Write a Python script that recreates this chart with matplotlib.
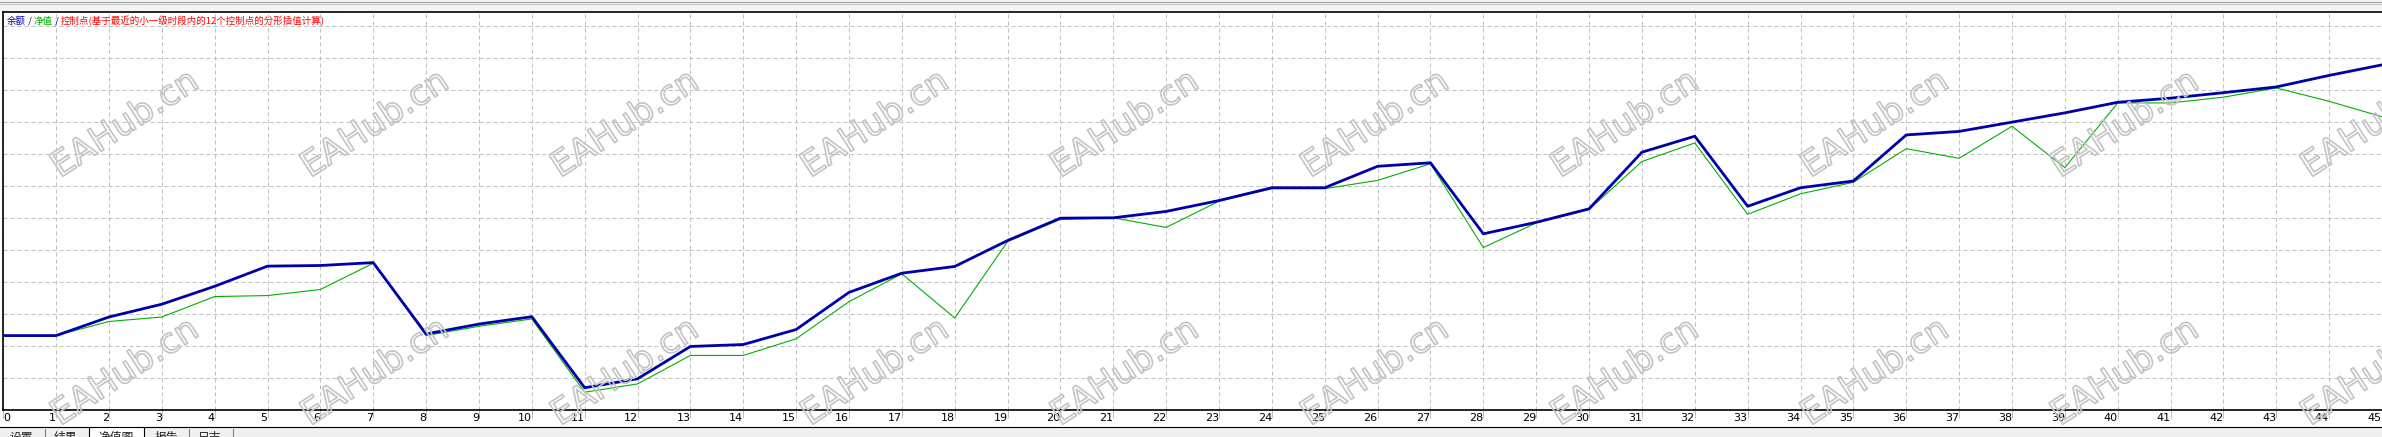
import matplotlib
matplotlib.use("Agg")
import matplotlib.pyplot as plt
from matplotlib import patheffects
from matplotlib.lines import Line2D
from matplotlib.patches import Rectangle

plt.rcParams['font.family'] = ['Noto Sans CJK SC', 'DejaVu Sans']

# Trade numbers and the two curves (in grid units, one unit per gridline)
trades = list(range(46))
balance = [2.31, 2.31, 2.89, 3.29, 3.85, 4.48, 4.50, 4.59, 2.36, 2.67,
           2.90, 0.68, 0.96, 1.97, 2.03, 2.50, 3.66, 4.26, 4.47, 5.28,
           5.98, 5.99, 6.19, 6.53, 6.93, 6.93, 7.60, 7.71, 5.49, 5.85,
           6.27, 8.04, 8.54, 6.35, 6.93, 7.14, 8.58, 8.69, 8.98, 9.27,
           9.60, 9.73, 9.90, 10.08, 10.44, 10.77]
equity = [2.31, 2.31, 2.75, 2.89, 3.53, 3.56, 3.75, 4.57, 2.31, 2.60,
          2.83, 0.54, 0.80, 1.69, 1.69, 2.21, 3.37, 4.24, 2.86, 5.25,
          5.94, 5.99, 5.69, 6.51, 6.90, 6.90, 7.16, 7.68, 5.06, 5.83,
          6.25, 7.75, 8.33, 6.10, 6.74, 7.10, 8.15, 7.85, 8.85, 7.56,
          9.58, 9.58, 9.76, 10.05, 9.63, 9.15]
tick_labels = [str(t) for t in trades]
tab_names = ["设置", "结果", "净值图", "报告", "日志"]
watermark = "EAHub.cn"

W, H = 2382, 437


def fx(p):
    return p / W


def fy(p):
    return 1 - p / H


fig = plt.figure(figsize=(W / 100, H / 100), dpi=100)
fig.patch.set_facecolor("white")

# plot area in pixels: left 3.2, top 12.3, bottom 409.5
ax = fig.add_axes([fx(3.2), fy(409.5), fx(W - 3.2), (409.5 - 12.3) / H])
ax.set_xlim(0, (W - 3.2) / 52.93)
ax.set_ylim(0, (409.5 - 12.3) / 32)

ax.plot(trades, equity, color="#00B000", lw=0.8, zorder=3)
ax.plot(trades, balance, color="#0000AA", lw=2.0, zorder=4)

ax.set_xticks(trades)
ax.set_xticklabels(tick_labels, fontsize=8, family="DejaVu Sans", color="black")
for i, lab in enumerate(ax.get_xticklabels()):
    lab.set_horizontalalignment("left" if i == 0 else "right")
ax.set_yticks(range(1, 13))
ax.tick_params(axis="x", length=5.5, width=0.72, color="#c0c0c0", pad=-3)
ax.tick_params(axis="y", length=0, labelleft=False)
ax.grid(True, color="#c0c0c0", lw=0.72, ls=(0, (4, 3)))
for s in ["left", "top", "bottom"]:
    ax.spines[s].set_color("black")
    ax.spines[s].set_linewidth(1.2)
ax.spines["right"].set_visible(False)

# legend line at top left
renderer = fig.canvas.get_renderer()
pieces = [("余额", "#0000AA"), (" / ", "#000060"), ("净值", "#00B000"), (" / ", "#000060"),
          ("控制点(基于最近的小一级时段内的12个控制点的分形插值计算)", "#FF0000")]
x = 7
for txt, col in pieces:
    t = fig.text(fx(x), fy(21), txt, color=col, fontsize=6.8, va="center", ha="left")
    x += t.get_window_extent(renderer).width

# window chrome on top
fig.add_artist(Rectangle((0, fy(11.5)), 1, 11.5 / H, transform=fig.transFigure,
                         facecolor="#f4f4f4", edgecolor="none", zorder=0))
fig.add_artist(Line2D([0, 1], [fy(2), fy(2)], color="#a0a0a0", lw=0.8, transform=fig.transFigure))
fig.add_artist(Line2D([0, 1], [fy(4.3), fy(4.3)], color="#c8c8c8", lw=0.8, transform=fig.transFigure))

# tab bar at the bottom
fig.add_artist(Rectangle((0, 0), 1, fy(427), transform=fig.transFigure,
                         facecolor="#f0f0f0", edgecolor="none", zorder=1))
fig.add_artist(Rectangle((fx(89), 0), fx(144 - 89), fy(427), transform=fig.transFigure,
                         facecolor="white", edgecolor="none", zorder=1))
fig.add_artist(Line2D([0, 1], [fy(427), fy(427)], color="black", lw=0.8, transform=fig.transFigure, zorder=2))
for bx in [89, 144]:
    fig.add_artist(Line2D([fx(bx), fx(bx)], [0, fy(427)], color="black", lw=0.8,
                          transform=fig.transFigure, zorder=2))
for bx in [45, 189, 233]:
    fig.add_artist(Line2D([fx(bx), fx(bx)], [0, fy(429)], color="#808080", lw=0.8,
                          transform=fig.transFigure, zorder=2))
tab_x = [10, 54, 98, 155, 198]
for name, tx in zip(tab_names, tab_x):
    fig.text(fx(tx), fy(430.5), name, fontsize=8.5, va="top", ha="left", color="#202020", zorder=3)

# watermarks, tiled over the whole picture
for row_y in [124, 372]:
    for k in range(10):
        fig.text(fx(125 + 250 * k), fy(row_y), watermark, fontsize=25, family="DejaVu Sans",
                 rotation=33, rotation_mode="anchor", ha="center", va="center",
                 color="none", zorder=5,
                 path_effects=[patheffects.Stroke(linewidth=1.2, foreground="#c4c4c4")])

fig.savefig("out.png", dpi=100)
